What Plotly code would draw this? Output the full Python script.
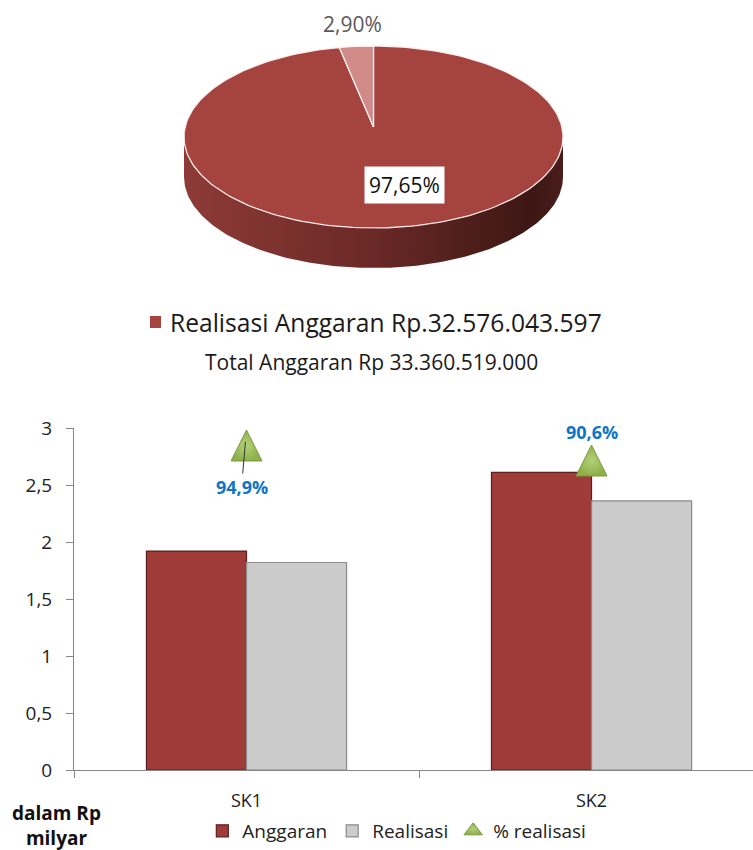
import numpy as np
import plotly.graph_objects as go

# ---------------- data ----------------
pie_labels = ["Realisasi Anggaran", "Sisa Anggaran"]
pie_values = [97.65, 2.90]
pie_text = ["97,65%", "2,90%"]
pie_legend_text = "Realisasi Anggaran Rp.32.576.043.597"
pie_total_text = "Total Anggaran Rp 33.360.519.000"

categories = ["SK1", "SK2"]
anggaran = [1.92, 2.61]
realisasi = [1.82, 2.36]
pct_realisasi = [94.9, 90.6]
pct_labels = ["94,9%", "90,6%"]
y_ticks = [0, 0.5, 1, 1.5, 2, 2.5, 3]
y_ticktext = ["0", "0,5", "1", "1,5", "2", "2,5", "3"]

W, H = 753, 850
FONT = "Open Sans"

fig = go.Figure()

# ---------------- 3D-looking pie (pixel-unit axes x3/y3) ----------------
cx, cy, ra, rb, depth = 373.5, 137.0, 189.5, 91.0, 40.0
apx, apy = 373.5, 127.0


def arc(t0, t1, n=200, dy=0.0):
    t = np.linspace(t0, t1, n)
    return cx + ra * np.sin(t), cy - rb * np.cos(t) + dy


total = sum(pie_values)
bounds = np.concatenate([[0], np.cumsum(pie_values) / total * 2 * np.pi])

# side wall (front half) belongs to the large slice
xs1, ys1 = arc(np.pi / 2, 3 * np.pi / 2)
xs2, ys2 = arc(3 * np.pi / 2, np.pi / 2, dy=depth)
fig.add_trace(go.Scatter(
    x=np.concatenate([xs1, xs2, xs1[:1]]), y=np.concatenate([ys1, ys2, ys1[:1]]),
    xaxis="x3", yaxis="y3", mode="lines", fill="toself",
    fillgradient=dict(type="horizontal",
                      colorscale=[[0, "#8E3B37"], [0.5, "#6A2926"], [0.92, "#3C1714"], [1, "#4A1D1B"]]),
    line=dict(color="rgba(0,0,0,0)", width=0), hoverinfo="skip", showlegend=False))

slice_colors = ["#A5433F", "#D08B88"]
for i, v in enumerate(pie_values):
    ax_, ay_ = arc(bounds[i], bounds[i + 1])
    fig.add_trace(go.Scatter(
        x=np.concatenate([[apx], ax_, [apx]]), y=np.concatenate([[apy], ay_, [apy]]),
        xaxis="x3", yaxis="y3", mode="lines", fill="toself", fillcolor=slice_colors[i],
        line=dict(color="rgba(255,240,240,0.95)", width=1.3),
        name=pie_labels[i], hoverinfo="name", showlegend=False))

# pie labels
fig.add_annotation(x=404, y=185, xref="x3", yref="y3", text=pie_text[0], showarrow=False,
                   bgcolor="white", borderpad=4, font=dict(family=FONT, size=21, color="#111"))
fig.add_annotation(x=352, y=24, xref="x3", yref="y3", text=pie_text[1], showarrow=False,
                   font=dict(family=FONT, size=21, color="#595959"))
# pie legend
fig.add_shape(type="rect", xref="x3", yref="y3", x0=150, x1=161, y0=316, y1=328,
              fillcolor=slice_colors[0], line=dict(width=0))
fig.add_annotation(x=386, y=322, xref="x3", yref="y3", xanchor="center", text=pie_legend_text,
                   showarrow=False, font=dict(family=FONT, size=24.6, color="#1a1a1a"))
fig.add_annotation(x=371, y=362, xref="x3", yref="y3", text=pie_total_text,
                   showarrow=False, font=dict(family=FONT, size=21, color="#1a1a1a"))

# ---------------- bar chart ----------------
fig.add_trace(go.Bar(x=categories, y=anggaran, name="Anggaran",
                     marker=dict(color="#9F3B39", line=dict(color="#5C1F1E", width=1.2))))
fig.add_trace(go.Bar(x=categories, y=realisasi, name="Realisasi",
                     marker=dict(color="#CBCBCB", line=dict(color="#8A8A8A", width=1.2))))
tri = dict(color="#8DB04A", line=dict(color="#7A9B40", width=1),
           gradient=dict(type="radial", color="#B2D178"))
fig.add_trace(go.Scatter(x=categories, y=pct_realisasi, yaxis="y2", mode="markers",
                         name="% realisasi", legendgroup="pct", showlegend=False,
                         marker=dict(symbol="arrow-up", size=31, **tri)))
# legend entry for the % series
fig.add_trace(go.Scatter(x=[None], y=[None], yaxis="y2", mode="markers",
                         name="% realisasi", legendgroup="pct", showlegend=True,
                         marker=dict(symbol="triangle-up", size=16, **tri)))

blue = "#0F75C6"
fig.add_annotation(x=categories[0], y=pct_realisasi[0], xref="x", yref="y2", text=pct_labels[0],
                   showarrow=True, arrowhead=0, arrowwidth=1, arrowcolor="#333", ax=-5, ay=57,
                   standoff=12,
                   font=dict(family=FONT, size=18, color=blue, weight="bold"))
fig.add_annotation(x=categories[1], y=pct_realisasi[1], xref="x", yref="y2", text=pct_labels[1],
                   showarrow=False, yshift=13,
                   font=dict(family=FONT, size=18, color=blue, weight="bold"))

fig.add_annotation(x=56 / W, y=1 - 825 / H, xref="paper", yref="paper", text="dalam Rp<br>milyar",
                   showarrow=False, align="center", xanchor="center", yanchor="middle",
                   font=dict(family=FONT, size=19, color="#111", weight="bold"))

fig.update_layout(
    width=W, height=H, margin=dict(l=0, r=0, t=0, b=0, autoexpand=False),
    paper_bgcolor="white", plot_bgcolor="white",
    separators=",.",
    barmode="group", bargap=0.42, bargroupgap=0,
    font=dict(family=FONT, color="#333"),
    showlegend=True,
    legend=dict(orientation="h", xanchor="center", x=0.527, yanchor="bottom", y=0,
                font=dict(family=FONT, size=19, color="#222"), itemwidth=30,
                bgcolor="rgba(0,0,0,0)"),
    xaxis=dict(domain=[74 / W, 1], anchor="y", range=[-0.5, 1.468], showline=True,
               linecolor="#868686", ticks="outside", tickson="boundaries", ticklen=7,
               tickcolor="#868686", showgrid=False, ticklabelstandoff=14,
               tickfont=dict(size=18, color="#222")),
    yaxis=dict(domain=[1 - 770 / H, 1 - 428 / H], anchor="x", range=[0, 3], tickvals=y_ticks,
               ticktext=y_ticktext, showline=True, linecolor="#868686", ticks="outside",
               ticklen=7, tickcolor="#868686", showgrid=False, zeroline=False,
               ticklabelstandoff=10, tickfont=dict(size=19, color="#222")),
    yaxis2=dict(overlaying="y", range=[-2.57, 95.47], visible=False),
    xaxis3=dict(domain=[0, 1], anchor="y3", range=[0, W], visible=False),
    yaxis3=dict(domain=[1 - 400 / H, 1], anchor="x3", range=[400, 0], visible=False),
)

fig.write_html("out.html", config={"displayModeBar": False},
               post_script="document.body.style.margin='0';document.body.style.overflow='hidden';")
